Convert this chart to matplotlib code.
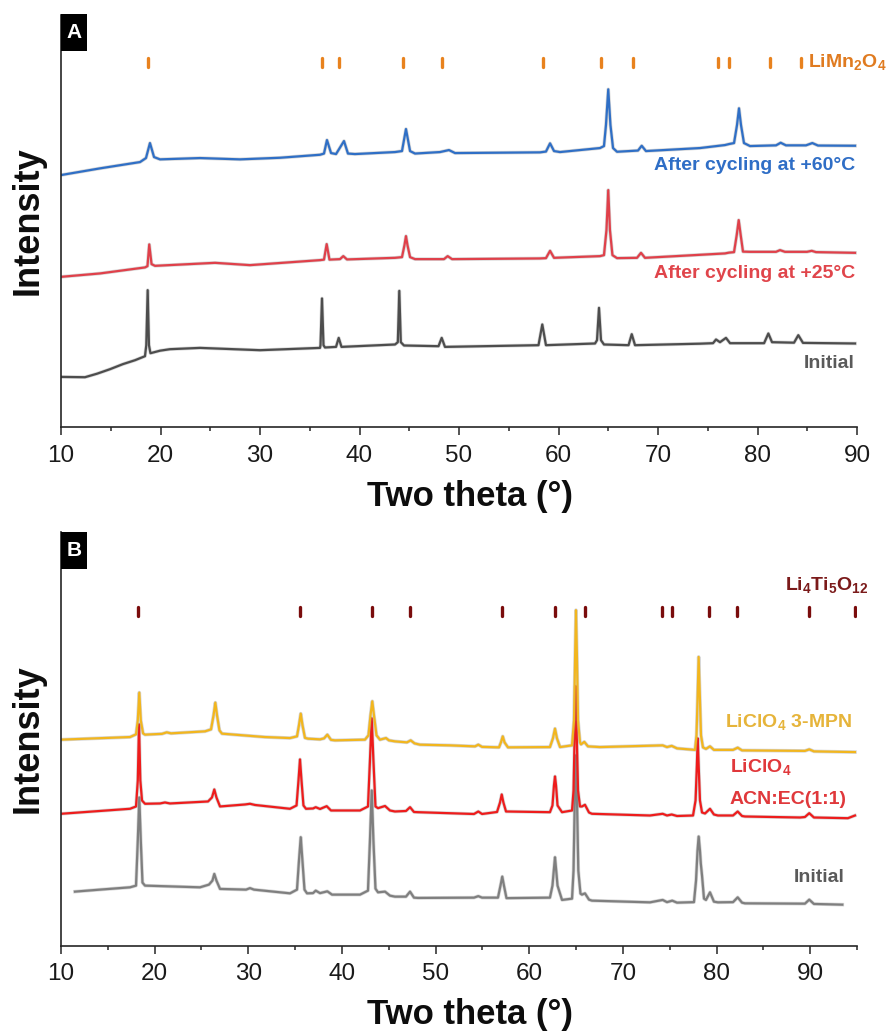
import matplotlib
matplotlib.use("Agg")
import matplotlib.pyplot as plt
import matplotlib.patheffects as pe
from matplotlib.patches import Rectangle

plt.rcParams["font.family"] = ["Liberation Sans", "DejaVu Sans"]
plt.rcParams["mathtext.fontset"] = "custom"
plt.rcParams["mathtext.rm"] = "Liberation Sans:bold"
plt.rcParams["mathtext.it"] = "Liberation Sans:bold"
plt.rcParams["mathtext.bf"] = "Liberation Sans:bold"

# ---------------- Panel A: LiMn2O4 electrodes ----------------
a60_tt = [10.0, 13.92, 17.94, 18.54, 18.94, 19.35, 19.95, 23.97, 27.99, 32.01,
          36.03, 36.43, 36.73, 37.14, 37.64, 38.44, 38.84, 39.55, 43.57, 44.27,
          44.67, 45.08, 45.58, 48.09, 48.99, 49.60, 58.14, 58.74, 59.15, 59.55,
          60.15, 64.17, 64.57, 64.77, 65.00, 65.22, 65.48, 65.88, 67.99, 68.36,
          68.79, 74.22, 76.73, 77.14, 77.64, 77.94, 78.14, 78.34, 78.64, 79.25,
          81.86, 82.33, 82.86, 84.87, 85.51, 86.08, 89.80]
a60_int = [252, 258.7, 265, 269, 284, 270, 267.7, 269, 267.7, 269.3,
           272.3, 273.5, 287, 274, 273, 286, 273.5, 273, 275, 276,
           298, 276, 273.5, 275, 277, 274, 274.7, 275.5, 283.7, 276,
           275, 279, 281, 302, 337.7, 302, 279, 275.3, 276.5, 281.3,
           276, 279, 282, 283, 284, 302, 318.7, 302, 284, 281,
           281.7, 284.3, 281.7, 281.7, 284, 281.5, 281.3]

a25_tt = [10.0, 13.92, 18.44, 18.69, 18.87, 19.10, 19.45, 25.48, 28.99, 36.03,
          36.43, 36.70, 36.98, 38.04, 38.37, 38.74, 43.57, 44.27, 44.52, 44.67,
          44.82, 45.08, 45.58, 48.49, 48.86, 49.30, 58.14, 58.74, 59.15, 59.55,
          64.17, 64.57, 64.82, 65.00, 65.17, 65.42, 65.88, 67.89, 68.29, 68.69,
          76.73, 77.14, 77.64, 77.91, 78.11, 78.31, 78.54, 79.25, 81.86, 82.26,
          82.76, 84.97, 85.45, 85.88, 89.80]
a25_int = [150.3, 153.7, 159.7, 161, 182.7, 163, 161.3, 164.3, 162, 167,
           167.5, 183, 167.5, 168, 171, 167.7, 169.3, 170, 182, 191,
           182, 170, 168, 168, 171, 168, 168.7, 169, 176.3, 169.3,
           171, 172, 197, 237, 197, 172, 169, 169.3, 174.3, 169.3,
           173.7, 174.5, 175, 192, 207, 192, 175.5, 175.3, 175.3, 177,
           175.3, 175.3, 176.3, 175, 174.3]

a0_tt = [10.0, 12.41, 13.62, 14.92, 16.20, 17.44, 18.44, 18.57, 18.71, 18.84,
         18.99, 19.95, 20.95, 23.97, 30.0, 36.03, 36.08, 36.23, 36.38, 36.53,
         37.64, 37.91, 38.19, 43.57, 43.85, 44.0, 44.15, 44.47, 47.94, 48.26,
         48.59, 57.99, 58.37, 58.74, 63.67, 63.87, 64.07, 64.27, 64.57, 67.04,
         67.36, 67.69, 74.22, 75.53, 75.83, 76.23, 76.83, 77.24, 80.66, 81.09,
         81.46, 83.67, 84.10, 84.57, 89.80]
a0_int = [50.3, 50, 53.5, 58, 63, 67, 71, 82, 137, 82,
          74, 76.5, 78, 79.3, 77, 79.3, 82, 128.7, 82, 79.7,
          80.3, 89.3, 80.3, 82.7, 85, 136.3, 85, 81.7, 81, 89.3,
          80.3, 82, 102.7, 82, 83.7, 87, 119.3, 87, 82.7, 82,
          93, 82, 83.5, 84, 87.7, 85, 89.3, 84, 84, 93.7,
          85, 84.5, 92, 84.3, 83.7]

limn2o4_ref = [18.71, 36.26, 37.94, 44.34, 48.32, 58.47, 64.24, 67.52,
               76.06, 77.14, 81.26, 84.37]

# ---------------- Panel B: Li4Ti5O12 electrodes ----------------
bmpn_tt = [10.0, 17.37, 18.01, 18.20, 18.36, 18.52, 18.76, 18.97, 20.78, 21.29,
           21.75, 25.38, 26.02, 26.29, 26.48, 26.66, 26.92, 27.19, 31.78, 34.45,
           35.20, 35.41, 35.60, 35.79, 36.05, 36.37, 37.66, 38.09, 38.44, 38.83,
           39.26, 42.46, 42.83, 43.05, 43.24, 43.42, 43.69, 44.06, 44.38, 44.70,
           45.02, 45.66, 46.94, 47.34, 47.75, 48.33, 51.54, 54.21, 54.56, 54.96,
           56.77, 56.98, 57.17, 57.36, 57.73, 62.21, 62.53, 62.75, 62.96, 63.29,
           64.57, 64.78, 64.89, 64.99, 65.10, 65.21, 65.42, 65.53, 65.88, 66.27,
           67.55, 74.25, 74.71, 75.21, 75.78, 77.70, 77.86, 77.97, 78.09, 78.23,
           78.34, 78.55, 78.87, 79.30, 79.72, 81.76, 82.26, 82.72, 89.44, 89.90,
           90.40, 94.78]
bmpn_int = [205.7, 208.3, 211, 225, 252.7, 225, 212, 210.7, 211.5, 213,
            212, 214, 216, 230, 242.7, 230, 215, 211.7, 208.3, 207.3,
            209, 220, 231.7, 220, 207.5, 206.7, 206, 207, 210.7, 205.5,
            205, 205.7, 210, 230, 244, 230, 210, 205.7, 206.5, 207.3,
            205, 204, 203, 205, 202, 200.7, 200, 199, 200.7, 198.5,
            198, 203, 209, 203, 198, 198.3, 207, 216.7, 207, 198.3,
            200, 225, 285, 335, 285, 225, 203, 201, 203.5, 199,
            198.3, 200, 198.3, 199.5, 197, 195.5, 210, 245, 288.3, 245,
            210, 198, 196.5, 199, 195.5, 195.5, 197.7, 195, 194.5, 196,
            194, 193.3]

bacn_tt = [10.0, 17.37, 18.01, 18.20, 18.33, 18.47, 18.65, 18.97, 20.57, 21.10,
           21.64, 25.70, 26.12, 26.37, 26.60, 26.98, 29.65, 30.18, 30.72, 34.45,
           35.15, 35.36, 35.52, 35.68, 35.89, 36.16, 36.91, 37.20, 37.66, 38.37,
           38.83, 41.93, 42.78, 42.99, 43.18, 43.36, 43.58, 43.85, 44.60, 45.13,
           45.66, 46.84, 47.27, 47.69, 48.12, 54.10, 54.56, 54.96, 56.56, 56.88,
           57.06, 57.24, 57.52, 62.21, 62.48, 62.64, 62.75, 62.86, 63.02, 63.50,
           64.57, 64.73, 64.86, 64.96, 65.06, 65.21, 65.42, 65.63, 65.95, 66.38,
           66.70, 72.89, 74.25, 74.71, 75.21, 75.78, 77.49, 77.76, 77.90, 77.99,
           78.09, 78.23, 78.45, 78.77, 79.30, 79.72, 80.15, 81.76, 82.26, 82.72,
           83.04, 88.91, 89.44, 89.90, 90.40, 94.03, 94.78]
bacn_int = [131.7, 136.7, 139, 165, 221, 165, 145, 141.7, 142, 143,
            142, 144, 148, 156, 148, 139, 141, 141.7, 140.5, 136.7,
            140, 165, 186, 165, 140, 136.7, 137, 138.3, 136.5, 139.3,
            135, 135, 139, 185, 227, 185, 139, 137.3, 139.5, 135,
            134, 134.5, 138.3, 133.5, 133.3, 131.5, 134, 131.5, 133.5, 143,
            151, 143, 134, 133.3, 140, 160, 169, 160, 140, 133.3,
            135, 155, 215, 259, 215, 155, 139, 139, 140.7, 133,
            131.7, 130, 131.7, 130, 131, 129.5, 130, 145, 180, 207,
            180, 145, 133, 132, 136.7, 131, 130, 130, 134, 129.5,
            129, 128, 128.5, 132.3, 128, 127.3, 130]

b0_tt = [11.49, 14.16, 17.37, 18.01, 18.20, 18.36, 18.52, 18.70, 18.97, 24.84,
         25.80, 26.17, 26.37, 26.60, 26.98, 29.76, 30.18, 30.61, 34.45, 35.20,
         35.41, 35.60, 35.78, 36.00, 36.27, 36.91, 37.20, 37.66, 38.44, 38.94,
         41.93, 42.78, 42.99, 43.18, 43.36, 43.58, 43.85, 44.60, 45.13, 45.66,
         46.84, 47.27, 47.69, 48.12, 54.10, 54.56, 54.96, 56.66, 56.93, 57.12,
         57.30, 57.57, 62.21, 62.48, 62.64, 62.75, 62.86, 63.02, 63.50, 64.57,
         64.73, 64.86, 64.99, 65.10, 65.24, 65.47, 65.63, 65.95, 66.38, 66.70,
         72.89, 74.25, 74.71, 75.27, 75.78, 77.59, 77.81, 77.97, 78.09, 78.23,
         78.32, 78.45, 78.66, 78.87, 79.30, 79.72, 80.15, 81.76, 82.26, 82.72,
         83.04, 88.91, 89.44, 89.90, 90.40, 93.43]
b0_int = [54, 56, 58.3, 60, 105, 148, 105, 63, 60, 58.3,
          61, 65, 71.7, 65, 56.7, 56, 57.5, 56, 52.3, 56,
          85, 108.3, 85, 56, 52.3, 52.5, 55, 52.5, 54.3, 51,
          51, 55, 105, 155, 105, 57, 53.3, 54, 50, 49,
          49, 54, 48, 47.7, 48, 49.5, 48, 48, 60, 69,
          60, 47.5, 48, 60, 77, 88.3, 77, 60, 45.7, 47,
          75, 145, 190, 145, 75, 52, 51, 52.3, 46, 45,
          43.3, 45.7, 43.5, 45, 43, 43.5, 65, 95, 109, 95,
          82, 70, 47, 45.7, 53.3, 44, 43.3, 43.5, 48.3, 43,
          42.3, 42, 42, 46, 41.7, 41]

li4ti5o12_ref = [18.25, 35.52, 43.18, 47.27, 57.06, 62.75, 65.95, 74.14,
                 75.21, 79.23, 82.15, 89.90, 94.78]

# ---------------- axis ticks ----------------
xticks_major = [10, 20, 30, 40, 50, 60, 70, 80, 90]
xtick_labels = ["10", "20", "30", "40", "50", "60", "70", "80", "90"]
xticks_minor_a = [15, 25, 35, 45, 55, 65, 75, 85]
xticks_minor_b = [15, 25, 35, 45, 55, 65, 75, 85, 95]

AXIS_COLOR = "#262626"
HALO = [pe.withStroke(linewidth=2.6, foreground=(0.55, 0.55, 0.55, 0.35))]


def style_axes(ax, xlim, ylim, minor):
    for side in ("top", "right"):
        ax.spines[side].set_visible(False)
    for side in ("left", "bottom"):
        ax.spines[side].set_linewidth(1.2)
        ax.spines[side].set_color(AXIS_COLOR)
    ax.set_xlim(*xlim)
    ax.set_ylim(*ylim)
    ax.set_xticks(xticks_major)
    ax.set_xticklabels(xtick_labels, fontsize=17.5, color="#1a1a1a")
    ax.set_xticks(minor, minor=True)
    ax.tick_params(axis="x", which="major", direction="out", length=6,
                   width=1.1, color=AXIS_COLOR, pad=6.5)
    ax.tick_params(axis="x", which="minor", direction="out", length=3,
                   width=1.1, color=AXIS_COLOR)
    ax.set_yticks([])
    ax.set_xlabel("Two theta (°)", fontsize=25, fontweight="bold",
                  va="baseline", color="#0d0d0d")
    ax.xaxis.set_label_coords(0.514, -0.19)
    ax.set_ylabel("Intensity", fontsize=26, fontweight="bold",
                  va="center", color="#0d0d0d")
    ax.yaxis.set_label_coords(-0.041, 0.5)


def trace(ax, tt, inten, color):
    ax.plot(tt, inten, color=color, lw=1.6, solid_joinstyle="round",
            path_effects=HALO)


fig = plt.figure(figsize=(8.88, 10.32), dpi=100, facecolor="white")
ax_a = fig.add_axes([0.0687, 0.5860, 0.8964, 0.3995])
ax_b = fig.add_axes([0.0687, 0.0836, 0.8964, 0.4009])

# ---- Panel A ----
trace(ax_a, a0_tt, a0_int, "#4d4d4d")
trace(ax_a, a25_tt, a25_int, "#e0404a")
trace(ax_a, a60_tt, a60_int, "#2f6fc6")
ref_a = ax_a.vlines(limn2o4_ref, 360, 369, colors="#e8821e", lw=2.4)
ref_a.set_capstyle("round")

lab_kw = dict(fontsize=14, fontweight="bold")
ax_a.text(89.8, 262, "After cycling at +60°C", color="#2f6ec6",
          ha="right", va="center", **lab_kw)
ax_a.text(89.8, 154, "After cycling at +25°C", color="#e0454b",
          ha="right", va="center", **lab_kw)
ax_a.text(89.8, 64, "Initial", color="#5a5a5a", ha="right", va="center",
          **lab_kw)
ax_a.text(85.1, 365, r"LiMn$_2$O$_4$", color="#e07b20", ha="left",
          va="center", clip_on=False, **lab_kw)
style_axes(ax_a, (10, 90), (0, 412), xticks_minor_a)

# ---- Panel B ----
trace(ax_b, b0_tt, b0_int, "#7f7f7f")
trace(ax_b, bacn_tt, bacn_int, "#ee1c1c")
trace(ax_b, bmpn_tt, bmpn_int, "#f2b61e")
ref_b = ax_b.vlines(li4ti5o12_ref, 329, 338, colors="#7a0c0c", lw=2.4)
ref_b.set_capstyle("round")

ax_b.text(80.9, 223, r"LiClO$_4$ 3-MPN", color="#e6b43a", ha="left",
          va="center", **lab_kw)
ax_b.text(81.4, 178, r"LiClO$_4$", color="#e0383b", ha="left",
          va="center", **lab_kw)
ax_b.text(81.4, 146, "ACN:EC(1:1)", color="#e0383b", ha="left",
          va="center", **lab_kw)
ax_b.text(93.7, 68, "Initial", color="#5a5a5a", ha="right", va="center",
          **lab_kw)
ax_b.text(87.3, 360, r"Li$_4$Ti$_5$O$_{12}$", color="#7b1a1a", ha="left",
          va="center", clip_on=False, **lab_kw)
style_axes(ax_b, (10, 95), (0, 413), xticks_minor_b)

# ---- panel letters ----
for letter, y0 in (("A", 0.9506), ("B", 0.4486)):
    fig.add_artist(Rectangle((0.0687, y0), 0.0293, 0.0359,
                             transform=fig.transFigure, facecolor="black",
                             edgecolor="none"))
    fig.text(0.0687 + 0.0293 / 2, y0 + 0.0359 / 2, letter, color="white",
             fontsize=15, fontweight="bold", ha="center", va="center")

fig.savefig("out.png", dpi=100, facecolor="white")
